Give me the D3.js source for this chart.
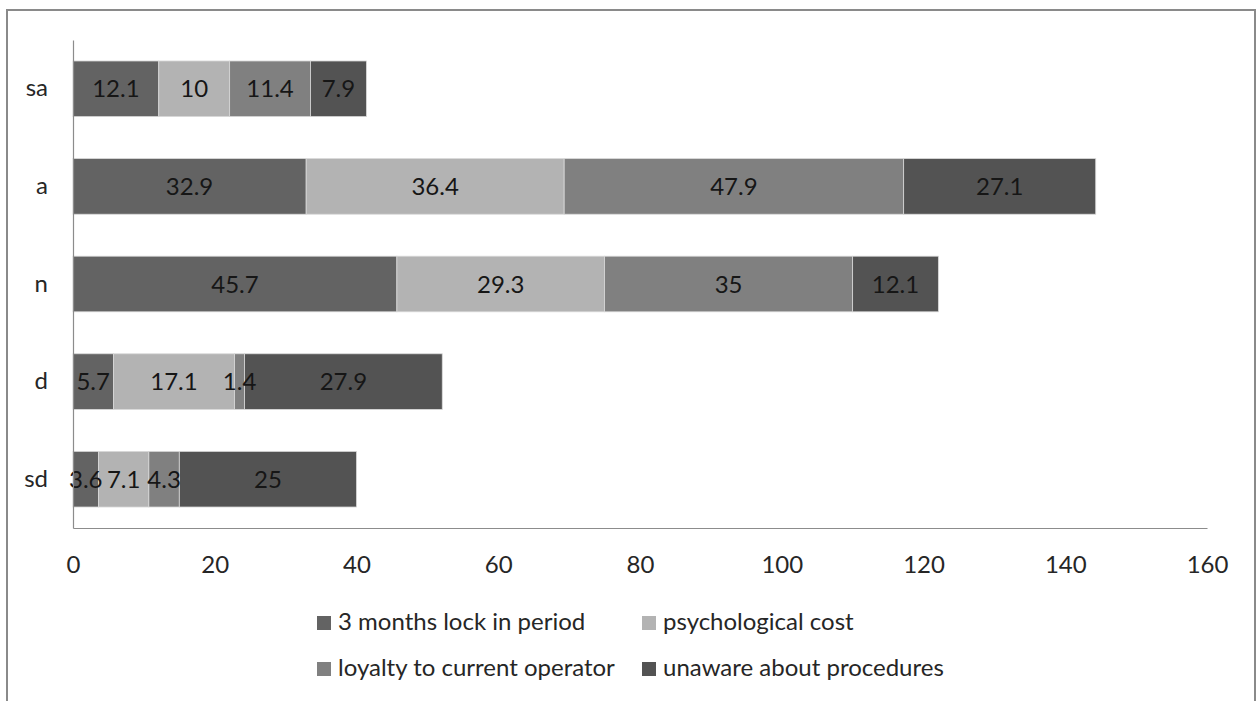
<!DOCTYPE html>
<html>
<head>
<meta charset="utf-8">
<script src="https://cdn.jsdelivr.net/npm/d3@7"></script>
<style>
  html, body { margin: 0; padding: 0; background: #ffffff; }
  svg { display: block; }
  text { font-family: Lato, "Open Sans", sans-serif; }
</style>
</head>
<body>
<svg id="chart" width="1259" height="701"></svg>
<script>
// ---- data ----
const categories = ["sa", "a", "n", "d", "sd"];
const seriesNames = ["3 months lock in period", "psychological cost", "loyalty to current operator", "unaware about procedures"];
const lockIn      = [12.1, 32.9, 45.7, 5.7, 3.6];
const psychCost   = [10, 36.4, 29.3, 17.1, 7.1];
const loyalty     = [11.4, 47.9, 35, 1.4, 4.3];
const unaware     = [7.9, 27.1, 12.1, 27.9, 25];
const xTicks      = [0, 20, 40, 60, 80, 100, 120, 140, 160];
const colors      = ["#636363", "#b3b3b3", "#808080", "#535353"];

const seriesValues = [lockIn, psychCost, loyalty, unaware];
const rows = categories.map((c, i) => {
  const r = { cat: c };
  seriesNames.forEach((s, j) => { r[s] = seriesValues[j][i]; });
  return r;
});

const FS = 24;
const svg = d3.select("#chart");

// outer frame (bottom edge runs past the image)
svg.append("rect")
  .attr("x", 7).attr("y", 10).attr("width", 1248).attr("height", 720)
  .attr("fill", "none").attr("stroke", "#8a8a8a").attr("stroke-width", 2);

const plot = { left: 73, right: 1207, top: 40, bottom: 528 };

const x = d3.scaleLinear().domain([0, 160]).range([plot.left, plot.right]);
const y = d3.scaleBand().domain(categories).range([plot.top, plot.bottom]).paddingInner(0.43).paddingOuter(0.215);

const stacked = d3.stack().keys(seriesNames)(rows);

const layers = svg.append("g").selectAll("g")
  .data(stacked).join("g")
  .attr("fill", (d, i) => colors[i]);

layers.selectAll("rect")
  .data(d => d)
  .join("rect")
  .attr("x", d => x(d[0]))
  .attr("y", d => y(d.data.cat))
  .attr("width", d => x(d[1]) - x(d[0]))
  .attr("height", y.bandwidth())
  .attr("stroke", "#d9d9d9")
  .attr("stroke-width", 0.8);

// value labels
stacked.forEach((layer) => {
  svg.append("g").selectAll("text")
    .data(layer).join("text")
    .attr("x", d => (x(d[0]) + x(d[1])) / 2)
    .attr("y", d => y(d.data.cat) + y.bandwidth() / 2)
    .attr("dy", "0.36em")
    .attr("text-anchor", "middle")
    .attr("font-size", FS)
    .attr("fill", "#161616")
    .text(d => d.data[layer.key]);
});

// y axis line + category labels
const yAxis = d3.axisLeft(y).tickSize(0).tickPadding(25);
const gy = svg.append("g").attr("transform", `translate(${plot.left},0)`).call(yAxis);
gy.select(".domain").attr("stroke", "#8c8c8c").attr("stroke-width", 1.2);
gy.selectAll("text").attr("font-size", FS).attr("fill", "#262626").style("font-family", "Lato, sans-serif");

// x axis
const xAxis = d3.axisBottom(x).tickValues(xTicks).tickSize(0).tickPadding(28);
const gx = svg.append("g").attr("transform", `translate(0,${plot.bottom})`).call(xAxis);
gx.select(".domain").attr("stroke", "#8c8c8c").attr("stroke-width", 1.2);
gx.selectAll("text").attr("font-size", FS).attr("fill", "#262626").style("font-family", "Lato, sans-serif");

// legend
const legendPos = [[317, 630], [642, 630], [317, 676], [642, 676]];
const legend = svg.append("g").selectAll("g")
  .data(seriesNames).join("g")
  .attr("transform", (d, i) => `translate(${legendPos[i][0]},${legendPos[i][1]})`);
legend.append("rect")
  .attr("x", 0).attr("y", -14).attr("width", 14).attr("height", 14)
  .attr("fill", (d, i) => colors[i]);
legend.append("text")
  .attr("x", 21).attr("y", 0)
  .attr("font-size", FS).attr("fill", "#262626")
  .text(d => d);
</script>
</body>
</html>
